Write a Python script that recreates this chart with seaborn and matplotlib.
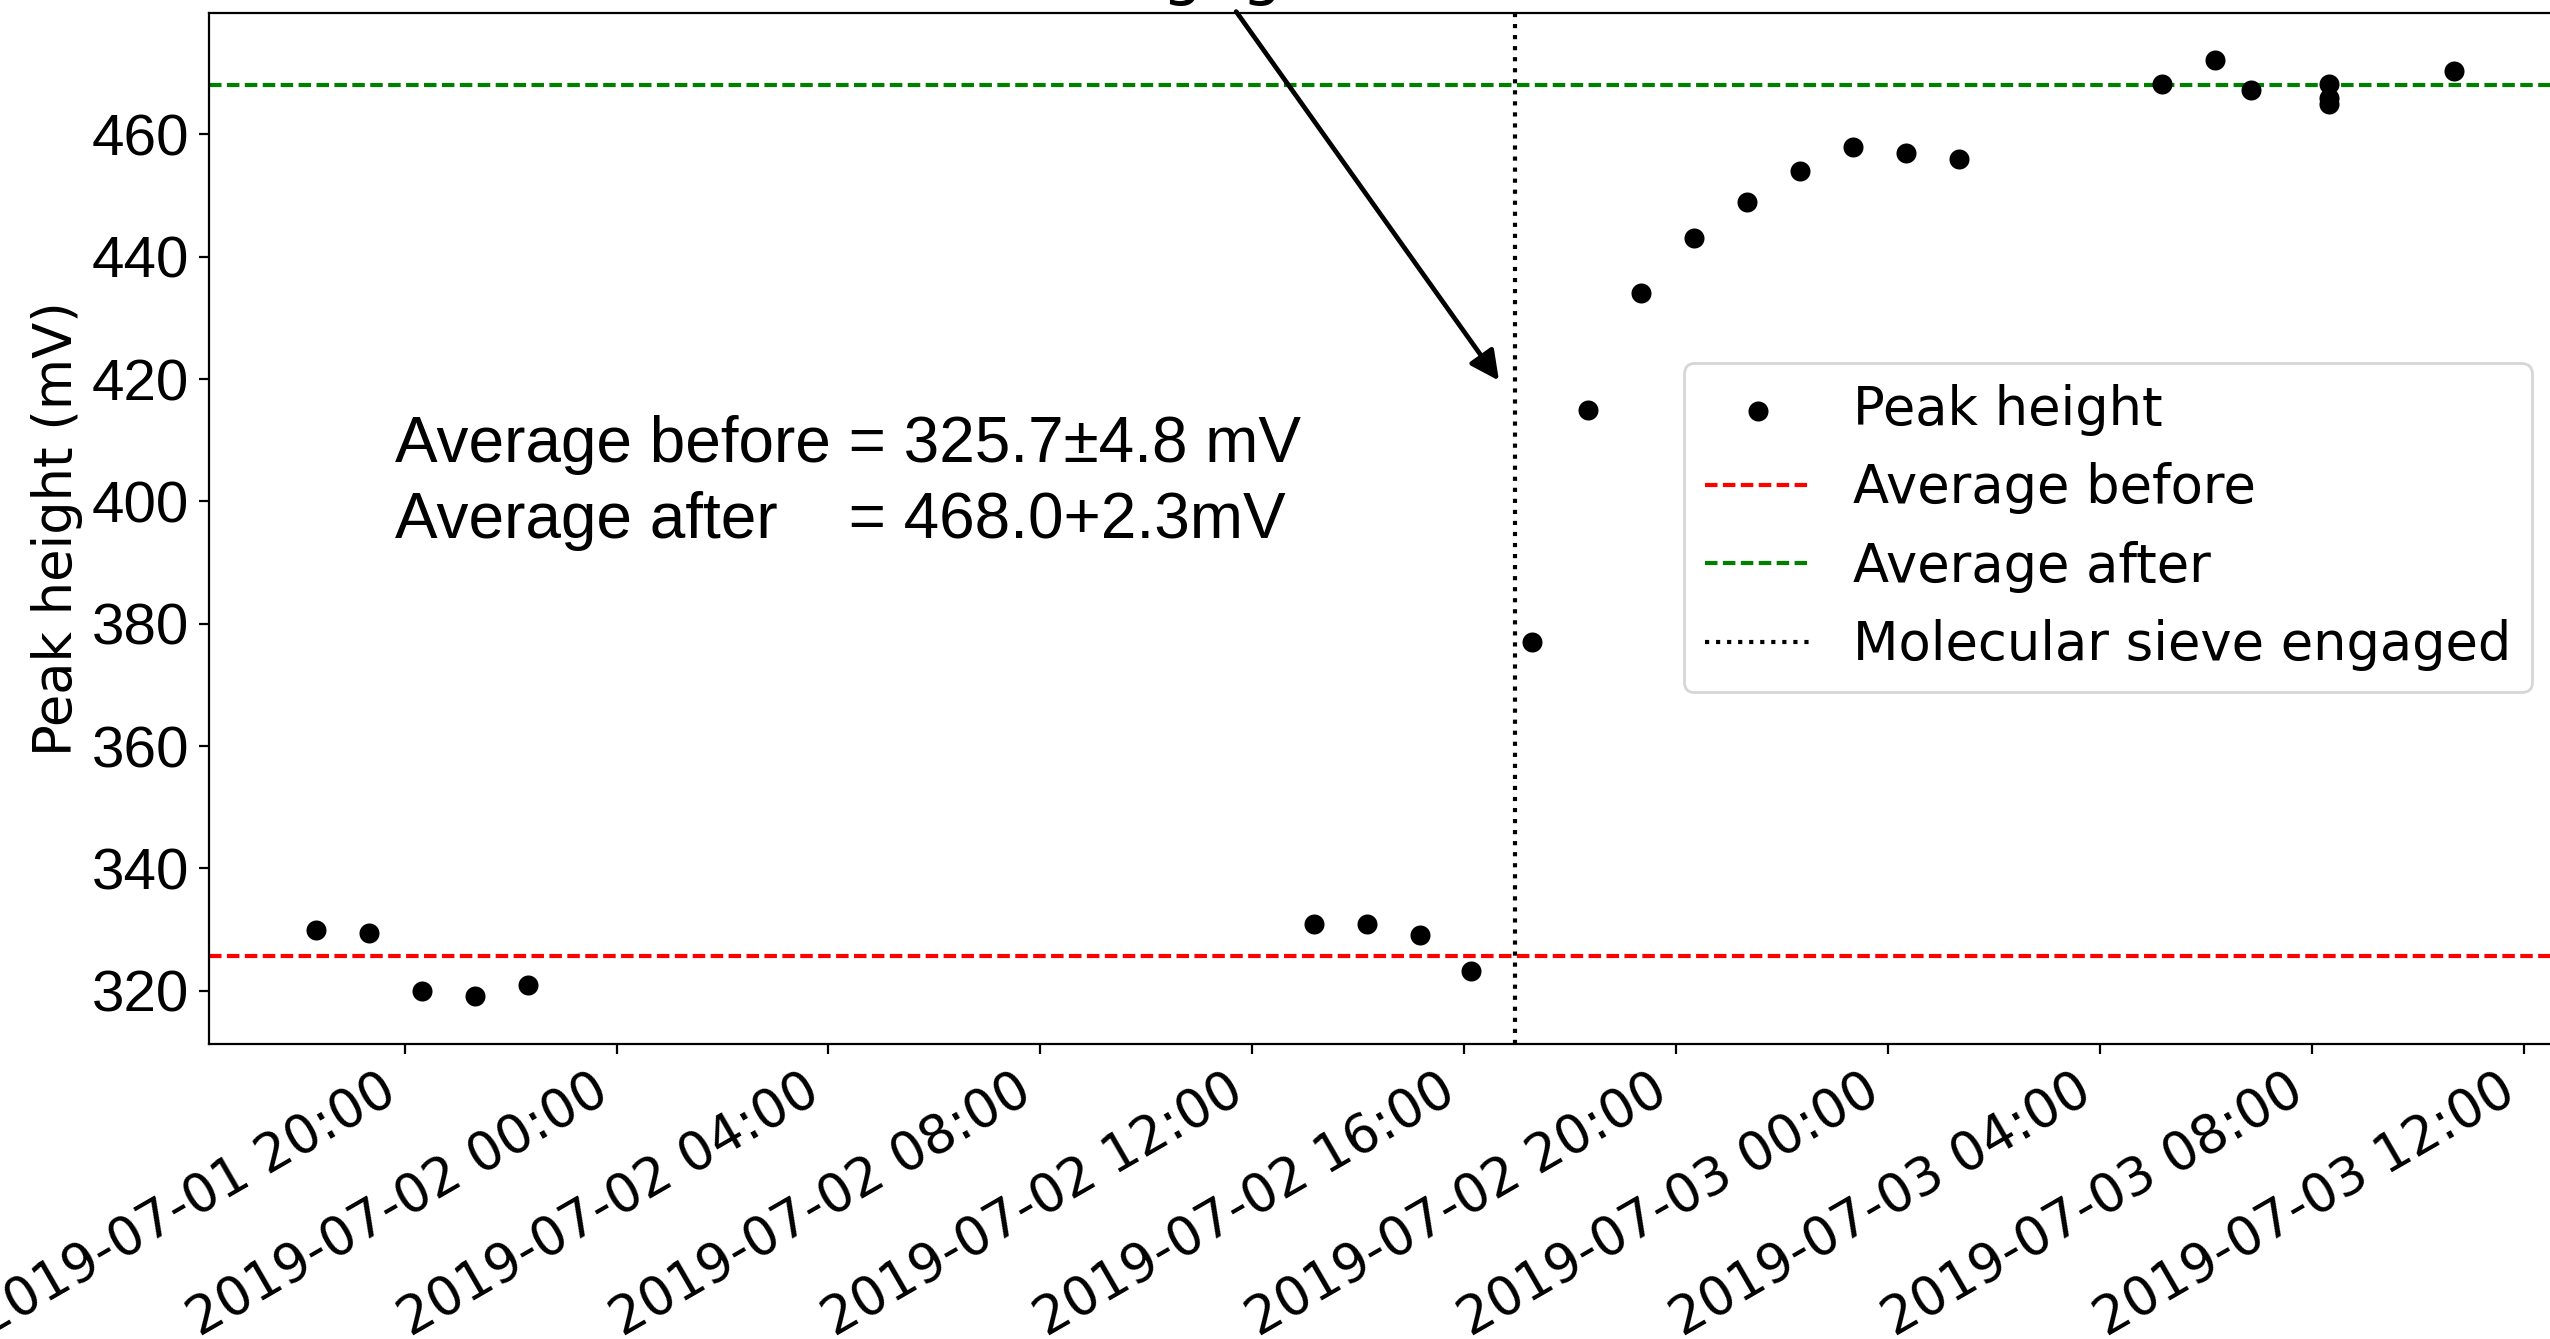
import matplotlib
matplotlib.use("Agg")
import matplotlib.pyplot as plt
import matplotlib.dates as mdates
import pandas as pd
import seaborn as sns

# measured peak heights
times = [
    "2019-07-01 18:20", "2019-07-01 19:20", "2019-07-01 20:20", "2019-07-01 21:20", "2019-07-01 22:20",
    "2019-07-02 13:10", "2019-07-02 14:10", "2019-07-02 15:10", "2019-07-02 16:08",
    "2019-07-02 17:17", "2019-07-02 18:20", "2019-07-02 19:20", "2019-07-02 20:20", "2019-07-02 21:20",
    "2019-07-02 22:20", "2019-07-02 23:20", "2019-07-03 00:20", "2019-07-03 01:20",
    "2019-07-03 05:10", "2019-07-03 06:10", "2019-07-03 06:51", "2019-07-03 08:19",
    "2019-07-03 08:19", "2019-07-03 08:19", "2019-07-03 10:41",
]
peak_mv = [
    330, 329.5, 320, 319.2, 321,
    331, 331, 329.2, 323.2,
    377, 415, 434, 443, 449,
    454, 458, 457, 456,
    468.3, 472.1, 467.2, 468.2,
    466, 465, 470.3,
]

avg_before = 325.7
avg_before_err = 4.8
avg_after = 468.0
avg_after_err = 2.3
sieve_time = "2019-07-02 16:57"
arrow_tip = ("2019-07-02 16:43", 419)
annot_text = "Molecular sieve engaged 02/07/2019 16:57"

y_ticks = [320, 340, 360, 380, 400, 420, 440, 460]
x_range = ("2019-07-01 16:18", "2019-07-03 12:58")

df = pd.DataFrame({"time": pd.to_datetime(times), "peak": peak_mv})

W, H = 2550, 1339
fig = plt.figure(figsize=(W / 200, H / 200), dpi=200)
ax = fig.add_axes([208.6 / W, 0.2203, (2575 - 208.6) / W, 0.9906 - 0.2203])

sns.scatterplot(data=df, x="time", y="peak", color="black", s=52, linewidth=0,
                ax=ax, zorder=3, legend=False)
pts = ax.collections[-1]
l1 = ax.axhline(avg_before, color="red", ls=(0, (3, 1.3)), lw=1.5)
l2 = ax.axhline(avg_after, color="green", ls=(0, (3, 1.3)), lw=1.5)
l3 = ax.axvline(mdates.date2num(pd.Timestamp(sieve_time)), color="black", ls=":", lw=1.5)

ax.set_xlim(mdates.date2num(pd.Timestamp(x_range[0])), mdates.date2num(pd.Timestamp(x_range[1])))
ax.set_ylim(311.3, 479.9)
ax.set_yticks(y_ticks)
ax.xaxis.set_major_locator(mdates.HourLocator(byhour=[0, 4, 8, 12, 16, 20]))
ax.xaxis.set_major_formatter(mdates.DateFormatter("%Y-%m-%d %H:%M"))
for lbl in ax.get_xticklabels():
    lbl.set_rotation(30)
    lbl.set_ha("right")
    lbl.set_fontsize(19)
for lbl in ax.get_yticklabels():
    lbl.set_fontfamily("Liberation Sans")
    lbl.set_fontsize(21)
ax.set_xlabel("")
ax.set_ylabel("Peak height (mV)", fontsize=19, labelpad=3)

ax.legend([pts, l1, l2, l3],
          ["Peak height", "Average before", "Average after", "Molecular sieve engaged"],
          fontsize=19, loc="upper right", bbox_to_anchor=(2532 / W, 1 - 363 / H),
          bbox_transform=fig.transFigure, borderaxespad=0)

fig.text(395 / W, 877.3 / H, f"Average before = {avg_before}\u00b1{avg_before_err} mV",
         fontfamily="Liberation Sans", fontsize=23, va="baseline")
fig.text(395 / W, 801 / H, f"Average after    = {avg_after}+{avg_after_err}mV",
         fontfamily="Liberation Sans", fontsize=23, va="baseline")

ax.annotate(annot_text,
            xy=(mdates.date2num(pd.Timestamp(arrow_tip[0])), arrow_tip[1]),
            xytext=(1260, 1346), textcoords="figure pixels",
            ha="center", va="baseline", fontsize=23,
            arrowprops=dict(arrowstyle="-|>", color="black", lw=1.7, mutation_scale=22,
                            relpos=(0.48, 0), shrinkA=0))

fig.savefig("out.png", dpi=200)
